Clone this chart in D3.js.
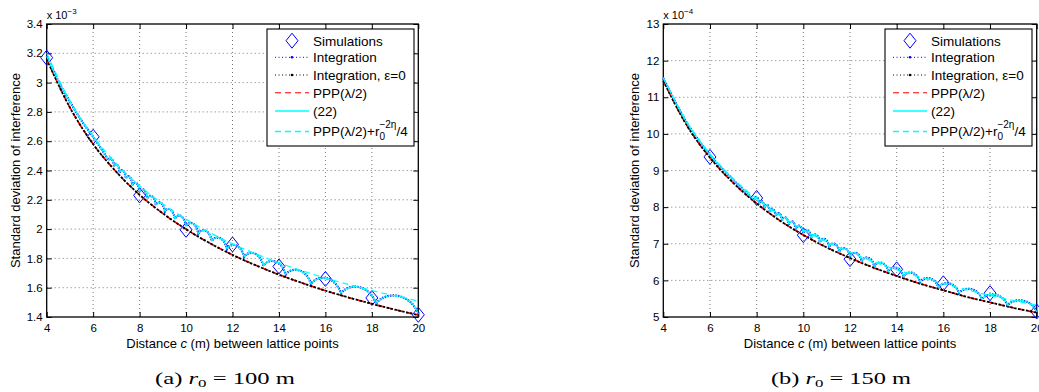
<!DOCTYPE html>
<html>
<head>
<meta charset="utf-8">
<script src="https://cdn.jsdelivr.net/npm/d3@7"></script>
<style>
  body { margin: 0; background: #fff; }
  text { font-family: "Liberation Sans", Arial, sans-serif; }
</style>
</head>
<body>
<div id="chart"></div>
<script>
// distance c (m) where the smooth curves are sampled
const cGrid = [4, 5, 6, 7, 8, 9, 10, 11, 12, 13, 14, 15, 16, 17, 18, 19, 20];
const xTicks = [4, 6, 8, 10, 12, 14, 16, 18, 20];

// (a) r0 = 100 m, values in units of 1e-3
const yTicksA = [1.4, 1.6, 1.8, 2, 2.2, 2.4, 2.6, 2.8, 3, 3.2, 3.4];
const simCA = [4, 6, 8, 10, 12, 14, 16, 18, 20];
const simA = [3.17, 2.63, 2.23, 1.995, 1.895, 1.745, 1.66, 1.53, 1.415];
const pppA = [3.16, 2.83, 2.58, 2.39, 2.234, 2.107, 1.999, 1.906, 1.824, 1.753, 1.689, 1.632, 1.58, 1.533, 1.49, 1.45, 1.413];
const pppCorrA = [3.2, 2.875, 2.634, 2.447, 2.296, 2.172, 2.068, 1.978, 1.899, 1.831, 1.77, 1.716, 1.666, 1.622, 1.581, 1.544, 1.509];
// scalloped curve: dips and arc tops
const dipCA = [20, 18.18, 16.67, 15.38, 14.29, 13.33, 12.5, 11.76, 11.11, 10.53, 10, 9.52, 9.09, 8.7, 8.33, 8, 7.69, 7.41, 7.14, 6.9, 6.67];
const dipA = [1.42, 1.49, 1.56, 1.625, 1.69, 1.75, 1.81, 1.865, 1.92, 1.97, 2.02, 2.07, 2.12, 2.165, 2.21, 2.255, 2.3, 2.345, 2.385, 2.43, 2.47];
const peakA = [1.545, 1.605, 1.665, 1.72, 1.78, 1.835, 1.89, 1.94, 1.99, 2.04, 2.09, 2.135, 2.18, 2.225, 2.27, 2.315, 2.36, 2.4, 2.44, 2.48];
const tailCA = [4, 4.5, 5, 5.5, 6, 6.67];
const tailA = [3.18, 3.01, 2.87, 2.74, 2.63, 2.47];

// (b) r0 = 150 m, values in units of 1e-4
const yTicksB = [5, 6, 7, 8, 9, 10, 11, 12, 13];
const simCB = [6, 8, 10, 12, 14, 16, 18, 20];
const simB = [9.37, 8.25, 7.235, 6.58, 6.3, 5.92, 5.65, 5.15];
const pppB = [11.45, 10.24, 9.35, 8.66, 8.1, 7.63, 7.24, 6.9, 6.61, 6.35, 6.12, 5.91, 5.73, 5.55, 5.4, 5.25, 5.12];
const pppCorrB = [11.54, 10.34, 9.46, 8.78, 8.23, 7.77, 7.38, 7.05, 6.77, 6.51, 6.29, 6.09, 5.91, 5.74, 5.59, 5.45, 5.32];
const dipCB = [20, 18.75, 17.65, 16.67, 15.79, 15, 14.29, 13.64, 13.04, 12.5, 12, 11.54, 11.11, 10.71, 10.34, 10, 9.68, 9.38, 9.09, 8.82, 8.57, 8.33, 8.11, 7.89];
const dipB = [5.14, 5.32, 5.49, 5.65, 5.8, 5.95, 6.1, 6.24, 6.38, 6.52, 6.65, 6.78, 6.91, 7.04, 7.16, 7.28, 7.4, 7.52, 7.64, 7.75, 7.86, 7.97, 8.08, 8.19];
const peakB = [5.45, 5.61, 5.765, 5.92, 6.06, 6.21, 6.35, 6.485, 6.62, 6.75, 6.88, 7.005, 7.13, 7.25, 7.375, 7.49, 7.61, 7.72, 7.835, 7.95, 8.06, 8.17, 8.275];
const tailCB = [4, 5, 6, 7, 7.89];
const tailB = [11.52, 10.31, 9.42, 8.74, 8.19];

const legendLabels = ['Simulations', 'Integration', 'Integration, \u03b5=0', 'PPP(\u03bb/2)', '(22)'];

const W = 1039, H = 392;
const plotTop = 24, plotBottom = 317;

const svg = d3.select('#chart').append('svg')
  .attr('width', W)
  .attr('height', H);

const panels = [
  { left: 46.7, right: 418.3, yDom: [1.4, 3.4], yTicks: yTicksA, exp: '\u22123',
    simC: simCA, sim: simA, ppp: pppA, corr: pppCorrA,
    dipC: dipCA, dip: dipA, peak: peakA, tailC: tailCA, tail: tailA,
    letter: '(a)', r0: '100', legLeft: 267, legRight: 414, ylabOff: 27, capX: 225 },
  { left: 663.3, right: 1036.7, yDom: [5, 13], yTicks: yTicksB, exp: '\u22124',
    simC: simCB, sim: simB, ppp: pppB, corr: pppCorrB,
    dipC: dipCB, dip: dipB, peak: peakB, tailC: tailCB, tail: tailB,
    letter: '(b)', r0: '150', legLeft: 885, legRight: 1032, ylabOff: 24, capX: 841 }
];

function diamond(cx, cy, hw, hh) {
  return `M${cx},${cy - hh}L${cx + hw},${cy}L${cx},${cy + hh}L${cx - hw},${cy}Z`;
}

// arcs between consecutive dips, each arc top set by peak value
function scallopPath(x, y, dipC, dip, peak) {
  const p = d3.path();
  p.moveTo(x(dipC[0]), y(dip[0]));
  for (let i = 0; i < peak.length; i++) {
    const xa = x(dipC[i]), ya = y(dip[i]);
    const xb = x(dipC[i + 1]), yb = y(dip[i + 1]);
    const yc = (y(peak[i]) - 0.125 * (ya + yb)) / 0.75;
    const w = xb - xa;
    p.bezierCurveTo(xa + 0.2 * w, yc, xb - 0.2 * w, yc, xb, yb);
  }
  return p.toString();
}

panels.forEach(P => {
  const x = d3.scaleLinear().domain([4, 20]).range([P.left, P.right]);
  const y = d3.scaleLinear().domain(P.yDom).range([plotBottom, plotTop]);
  const g = svg.append('g');

  // grid
  g.append('g').selectAll('line').data(xTicks.slice(1, -1)).enter().append('line')
    .attr('x1', d => x(d)).attr('x2', d => x(d))
    .attr('y1', plotTop).attr('y2', plotBottom)
    .attr('stroke', '#555').attr('stroke-width', 0.8).attr('stroke-dasharray', '1,3');
  g.append('g').selectAll('line').data(P.yTicks.slice(1, -1)).enter().append('line')
    .attr('x1', P.left).attr('x2', P.right)
    .attr('y1', d => y(d)).attr('y2', d => y(d))
    .attr('stroke', '#555').attr('stroke-width', 0.8).attr('stroke-dasharray', '1,3');

  // axes, ticks inward on all sides
  const axB = g.append('g').attr('transform', `translate(0,${plotBottom})`)
    .call(d3.axisBottom(x).tickValues(xTicks).tickSize(-5).tickPadding(7));
  const axT = g.append('g').attr('transform', `translate(0,${plotTop})`)
    .call(d3.axisTop(x).tickValues(xTicks).tickSize(-5).tickFormat(''));
  const axL = g.append('g').attr('transform', `translate(${P.left},0)`)
    .call(d3.axisLeft(y).tickValues(P.yTicks).tickSize(-5).tickPadding(4).tickFormat(d3.format('')));
  const axR = g.append('g').attr('transform', `translate(${P.right},0)`)
    .call(d3.axisRight(y).tickValues(P.yTicks).tickSize(-5).tickFormat(''));
  [axB, axT, axL, axR].forEach(a => {
    a.select('.domain').remove();
    a.selectAll('line').attr('stroke', '#000');
    a.selectAll('text').attr('font-size', 11.5).attr('fill', '#000')
      .attr('font-family', '"Liberation Sans", Arial, sans-serif');
  });

  g.append('rect')
    .attr('x', P.left).attr('y', plotTop)
    .attr('width', P.right - P.left).attr('height', plotBottom - plotTop)
    .attr('fill', 'none').attr('stroke', '#000').attr('stroke-width', 1.3);

  // exponent label
  const ex = g.append('text').attr('x', P.left).attr('y', 19).attr('font-size', 11);
  ex.append('tspan').text('x 10');
  ex.append('tspan').attr('font-size', 8).attr('dy', -5).text(P.exp);

  // simulations
  g.append('g').selectAll('path').data(P.simC).enter().append('path')
    .attr('d', (d, i) => diamond(x(d), y(P.sim[i]), 6, 7.5))
    .attr('fill', 'none').attr('stroke', '#0000ff').attr('stroke-width', 1);

  const line = d3.line().x(d => x(d[0])).y(d => y(d[1])).curve(d3.curveMonotoneX);
  const smooth = cGrid.map((c, i) => [c, P.ppp[i]]);
  const corr = cGrid.map((c, i) => [c, P.corr[i]]);
  const tail = P.tailC.map((c, i) => [c, P.tail[i]]);
  const scallop = scallopPath(x, y, P.dipC, P.dip, P.peak);

  // Integration (blue dotted) and (22) (cyan solid)
  g.append('path').attr('d', scallop).attr('fill', 'none')
    .attr('stroke', '#0000ff').attr('stroke-width', 2.2).attr('stroke-dasharray', '1.5,1.2');
  g.append('path').attr('d', line(tail)).attr('fill', 'none')
    .attr('stroke', '#0000ff').attr('stroke-width', 2.2).attr('stroke-dasharray', '1.5,1.2');

  // PPP (red dashed) and Integration eps=0 (black dotted)
  g.append('path').attr('d', line(smooth)).attr('fill', 'none')
    .attr('stroke', '#ff0000').attr('stroke-width', 1.6).attr('stroke-dasharray', '6,4');
  g.append('path').attr('d', line(smooth)).attr('fill', 'none')
    .attr('stroke', '#000').attr('stroke-width', 1.8).attr('stroke-dasharray', '2.5,1.5');

  g.append('path').attr('d', scallop).attr('fill', 'none')
    .attr('stroke', '#00ffff').attr('stroke-width', 1.1);
  g.append('path').attr('d', line(tail)).attr('fill', 'none')
    .attr('stroke', '#00ffff').attr('stroke-width', 1.1);

  // PPP + r0^-2eta/4 (cyan dashed)
  g.append('path').attr('d', line(corr)).attr('fill', 'none')
    .attr('stroke', '#00ffff').attr('stroke-width', 1.2).attr('stroke-dasharray', '6,4');

  // axis titles
  const xl = g.append('text')
    .attr('x', (P.left + P.right) / 2).attr('y', 348)
    .attr('text-anchor', 'middle').attr('font-size', 13);
  xl.append('tspan').text('Distance ');
  xl.append('tspan').attr('font-style', 'italic').text('c');
  xl.append('tspan').text(' (m) between lattice points');

  g.append('text')
    .attr('transform', `translate(${P.left - P.ylabOff},${(plotTop + plotBottom) / 2}) rotate(-90)`)
    .attr('text-anchor', 'middle').attr('font-size', 13)
    .text('Standard deviation of interference');

  // caption
  const cap = g.append('text')
    .attr('x', P.capX - 70).attr('y', 384)
    .attr('font-size', 16)
    .attr('textLength', 140).attr('lengthAdjust', 'spacingAndGlyphs')
    .style('font-family', '"Liberation Serif", "DejaVu Serif", serif');
  cap.append('tspan').text(P.letter + ' ');
  cap.append('tspan').attr('font-style', 'italic').text('r');
  cap.append('tspan').attr('font-size', 11).attr('dy', 3).text('0');
  cap.append('tspan').attr('dy', -3).text(' = ' + P.r0 + ' m');

  // legend
  const L = P.legLeft;
  const leg = g.append('g');
  leg.append('rect')
    .attr('x', L).attr('y', 29).attr('width', P.legRight - L).attr('height', 117)
    .attr('fill', '#fff').attr('stroke', '#000').attr('stroke-width', 1.1);
  const rowY = [40.7, 57.3, 75, 92.7, 111, 131.5];
  const sx0 = L + 8, sx1 = L + 42, tx = L + 46;
  leg.append('path').attr('d', diamond((sx0 + sx1) / 2, rowY[0], 6, 7.5))
    .attr('fill', 'none').attr('stroke', '#0000ff');
  const styles = [
    null,
    { c: '#0000ff', w: 1, da: '1,2.5', dot: true },
    { c: '#000', w: 1, da: '1,2.5', dot: true },
    { c: '#ff0000', w: 1.1, da: '6,4' },
    { c: '#00ffff', w: 1.3, da: null },
    { c: '#00ffff', w: 1.3, da: '6,4' }
  ];
  styles.forEach((s, i) => {
    if (!s) return;
    const ln = leg.append('line')
      .attr('x1', sx0).attr('x2', sx1).attr('y1', rowY[i]).attr('y2', rowY[i])
      .attr('stroke', s.c).attr('stroke-width', s.w);
    if (s.da) ln.attr('stroke-dasharray', s.da);
    if (s.dot) leg.append('circle').attr('cx', (sx0 + sx1) / 2).attr('cy', rowY[i])
      .attr('r', 1.3).attr('fill', s.c);
  });
  legendLabels.forEach((t, i) => {
    leg.append('text').attr('x', tx).attr('y', rowY[i] + 4.8)
      .attr('font-size', 13.5).text(t);
  });
  const last = leg.append('text').attr('x', tx).attr('y', rowY[5] + 4.8).attr('font-size', 13.5);
  last.append('tspan').text('PPP(\u03bb/2)+r');
  last.append('tspan').attr('font-size', 10).attr('dy', 4).text('0');
  last.append('tspan').attr('font-size', 10).attr('dx', -5.5).attr('dy', -12).text('\u22122\u03b7');
  last.append('tspan').attr('dy', 8).text('/4');
});
</script>
</body>
</html>
